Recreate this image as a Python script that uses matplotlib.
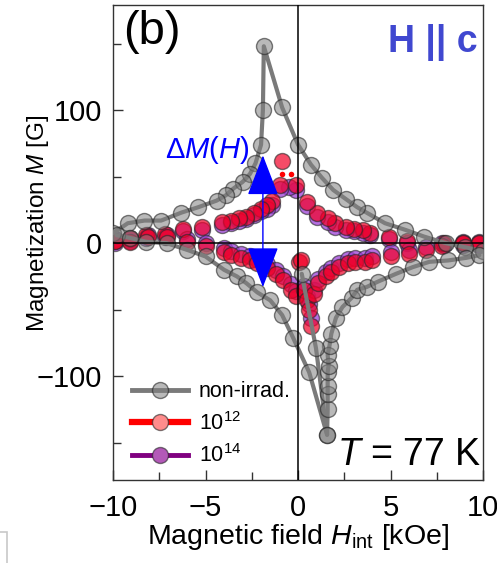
import matplotlib
matplotlib.use("Agg")
import matplotlib.pyplot as plt
from matplotlib.lines import Line2D
from matplotlib.patches import Rectangle
from matplotlib.ticker import MultipleLocator

plt.rcParams["font.family"] = ["Liberation Sans", "DejaVu Sans"]
plt.rcParams["mathtext.fontset"] = "custom"
plt.rcParams["mathtext.rm"] = "Liberation Sans"
plt.rcParams["mathtext.it"] = "Liberation Sans:italic"

# --- data (H in kOe, M in G) -----------------------------------------------
# non-irradiated: descending-field branch (+10 -> -10)
gray_up_h = [10, 9.0, 8.0, 6.8, 5.8, 4.7, 3.7, 3.2, 2.6, 1.9, 1.3, 0.7, 0.0,
             -0.86, -1.85, -1.9, -2.0, -2.3, -2.6, -3.0, -3.5, -3.9, -4.4,
             -5.4, -6.3, -7.4, -8.3, -9.2, -10.0]
gray_up_m = [-6, -3, 0, 5, 10, 15, 23, 27, 33, 40, 49, 59, 74,
             102, 148, 100, 74, 60, 52, 46, 41, 36, 32,
             27, 23, 17, 17, 15, 7.5]
# non-irradiated: ascending-field branch (-10 -> +10)
gray_dn_h = [-9.8, -9.1, -8.2, -7.1, -6.0, -5.0, -4.0, -3.3, -2.8, -2.2, -1.5,
             -0.86, -0.27, 0.6, 1.57, 1.6, 1.6, 1.6, 1.6, 1.65, 1.6, 1.7, 1.8,
             2.05, 2.4, 2.9, 3.2, 3.7, 4.3, 5.3, 6.2, 7.1, 8.1, 9.1, 9.8]
gray_dn_m = [6, 4, 1, 0, -5, -10, -20, -25, -30, -37, -43,
             -54, -71, -97, -144, -125, -113, -107, -97, -92, -84, -77, -68,
             -56, -48, -41, -35, -33, -29, -23, -18, -14, -13, -11, -9]
# non-irradiated: initial segment near H = 0
gray_v_h = [0.2, 0.97, 1.57]
gray_v_m = [-23, -79, -144]

# 1e12
red_up_h = [9.8, 8.9, 7.9, 5.9, 4.9, 3.9, 3.5, 3.0, 2.6, 2.0, 1.6, 1.0, 0.5,
            -0.1, -0.86, -1.0, -1.4, -1.7, -2.0, -2.4, -2.8, -3.2, -3.6,
            -4.1, -5.2, -6.2, -7.2, -8.2, -9.1, -9.9]
red_up_m = [0, 0, 0, 2, 5, 8, 10, 11, 12, 15, 19, 23, 31,
            44, 62, 44, 32, 29, 26, 23, 20, 19, 17,
            16, 12, 11, 7, 6, 4, 2]
red_dn_h = [-9.9, -9.1, -8.1, -7.1, -6.0, -5.0, -4.0, -3.6, -3.1, -2.6, -2.2,
            -1.7, -1.2, -0.8, -0.4, -0.1, 0.05, 0.15, 0.3, 0.5, 0.6, 0.7,
            0.86, 1.1, 1.5, 1.8, 2.2, 2.7, 3.1, 3.6, 4.0, 5.0, 6.0, 6.9,
            7.8, 8.9, 9.8]
red_dn_m = [2, 1, 5, 5, 1, -2, -7, -9, -11, -13, -15,
            -19, -23, -28, -35, -40, -14, -13, -35, -43, -50, -62,
            -38, -30, -25, -22, -18, -15, -14, -14, -13, -10, -8, -5,
            -2, 0, 0]
red_dot_h = [-0.86, -0.4]
red_dot_m = [52, 52]

# 1e14
pur_up_h = [9.8, 8.9, 7.9, 5.9, 4.9, 3.9, 3.5, 3.0, 2.6, 2.0, 1.6, 1.0, 0.5,
            -0.1, -0.5, -1.0, -1.4, -1.7, -2.0, -2.4, -2.8, -3.2, -3.6,
            -4.1, -5.2, -6.2, -7.2, -8.2, -9.1, -9.9]
pur_up_m = [-1, -1, -1, 0, 3, 6, 8, 9, 10, 12, 16, 20, 28,
            40, 42, 41, 29, 26, 24, 21, 18, 17, 15,
            14, 10, 9, 5, 4, 2, 0]
pur_dn_h = [-9.9, -9.1, -8.1, -7.1, -6.0, -5.0, -4.0, -3.6, -3.1, -2.6, -2.2,
            -1.7, -1.2, -0.8, -0.4, -0.1, 0.3, 0.5, 0.6, 0.7,
            0.86, 1.1, 1.5, 1.8, 2.2, 2.7, 3.1, 3.6, 4.0, 5.0, 6.0, 6.9,
            7.8, 8.9, 9.8]
pur_dn_m = [3, 3, 6, 6, 3, 0, -4, -6, -8, -10, -12,
            -16, -20, -25, -31, -36, -32, -40, -46, -56,
            -35, -27, -22, -19, -15, -12, -11, -11, -10, -7, -5, -3,
            0, 1, 1]

labels = ["non-irrad.", "10$^{12}$", "10$^{14}$"]

# --- style -----------------------------------------------------------------
C_GRAY, C_RED, C_PUR, C_BLUE = "#7a7a7a", "#ff0000", "#800080", "#0000ff"
MS = 11.5

fig = plt.figure(figsize=(4.97, 5.63), dpi=100)
ax = fig.add_axes([0.2274, 0.1474, 0.7446, 0.8437])

mk = dict(marker="o", ms=MS, ls="none", mec=(0.15, 0.15, 0.15, 0.6), mew=1.0)
for h, m in [(pur_up_h, pur_up_m), (pur_dn_h, pur_dn_m)]:
    ax.plot(h, m, mfc=(0.62, 0.25, 0.85, 0.75), **mk)
for h, m in [(red_up_h, red_up_m), (red_dn_h, red_dn_m)]:
    ax.plot(h, m, mfc=(0.95, 0.0, 0.15, 0.7), **mk)
ax.plot(red_dot_h, red_dot_m, "o", ms=4, color=C_RED, mec="none")
for h, m in [(gray_up_h, gray_up_m), (gray_dn_h, gray_dn_m), (gray_v_h, gray_v_m)]:
    ax.plot(h, m, color=C_GRAY, lw=3, solid_capstyle="round", zorder=3)
    ax.plot(h, m, mfc=(0.5, 0.5, 0.5, 0.55), zorder=4, **mk)

ax.axhline(0, color="black", lw=1.1, zorder=5)
ax.axvline(0, color="black", lw=1.1, zorder=5)

# Delta M arrow
ax.annotate("", xy=(-1.9, 66), xytext=(-1.9, -33),
            arrowprops=dict(arrowstyle="<|-|>,head_length=1.3,head_width=0.5",
                            mutation_scale=20, color=C_BLUE, lw=1.0,
                            shrinkA=0, shrinkB=0), zorder=6)
ax.text(-7.2, 70, "Δ$M$($H$)", color=C_BLUE, fontsize=21, va="center", ha="left")

ax.text(0.027, 0.99, "(b)", transform=ax.transAxes, fontsize=34, va="top", ha="left")
ax.text(0.985, 0.96, "H || c", transform=ax.transAxes, fontsize=27,
        fontweight="bold", color="#4048d0", va="top", ha="right")
ax.text(0.995, 0.015, "$T$ = 77 K", transform=ax.transAxes, fontsize=27,
        va="bottom", ha="right")

ax.set_xlim(-10, 10)
ax.set_ylim(-178, 179)
ax.xaxis.set_major_locator(MultipleLocator(5))
ax.xaxis.set_minor_locator(MultipleLocator(2.5))
ax.yaxis.set_major_locator(MultipleLocator(100))
ax.yaxis.set_minor_locator(MultipleLocator(50))
ax.tick_params(which="both", direction="in", top=False, right=False,
               labelsize=21, width=1.0, color="#333333")
ax.tick_params(axis="x", pad=10)
ax.tick_params(axis="y", pad=8)
ax.tick_params(which="major", length=7)
ax.tick_params(which="minor", length=6)
for s in ax.spines.values():
    s.set_color("#333333")
    s.set_linewidth(1.0)

ax.set_xlabel("Magnetic field $H_{\\mathrm{int}}$ [kOe]", fontsize=20.5, labelpad=0)
ax.set_ylabel("Magnetization $M$ [G]", fontsize=17.5)
ax.yaxis.set_label_coords(-0.167, 0.54)

handles = [
    Line2D([], [], color=C_GRAY, lw=3.5, marker="o", ms=MS,
           mfc=(0.5, 0.5, 0.5, 0.55), mec=(0.15, 0.15, 0.15, 0.6)),
    Line2D([], [], color=C_RED, lw=4.5, marker="o", ms=MS,
           mfc=(1.0, 0.55, 0.55, 1.0), mec=(0.15, 0.15, 0.15, 0.6)),
    Line2D([], [], color=C_PUR, lw=3.5, marker="o", ms=MS,
           mfc=(0.7, 0.35, 0.72, 1.0), mec=(0.15, 0.15, 0.15, 0.6)),
]
ax.legend(handles, labels, loc="lower left", bbox_to_anchor=(0.01, -0.005),
          frameon=False, fontsize=15.5, handlelength=2.6, handletextpad=0.5,
          labelspacing=0.45, borderaxespad=0.3)

# faint box corner at the lower-left edge of the picture
fig.patches.append(Rectangle((-0.01, -0.01), 0.024, 0.065, transform=fig.transFigure,
                             fill=False, ec="#c8c8c8", lw=1.2))

fig.savefig("out.png", dpi=100)
